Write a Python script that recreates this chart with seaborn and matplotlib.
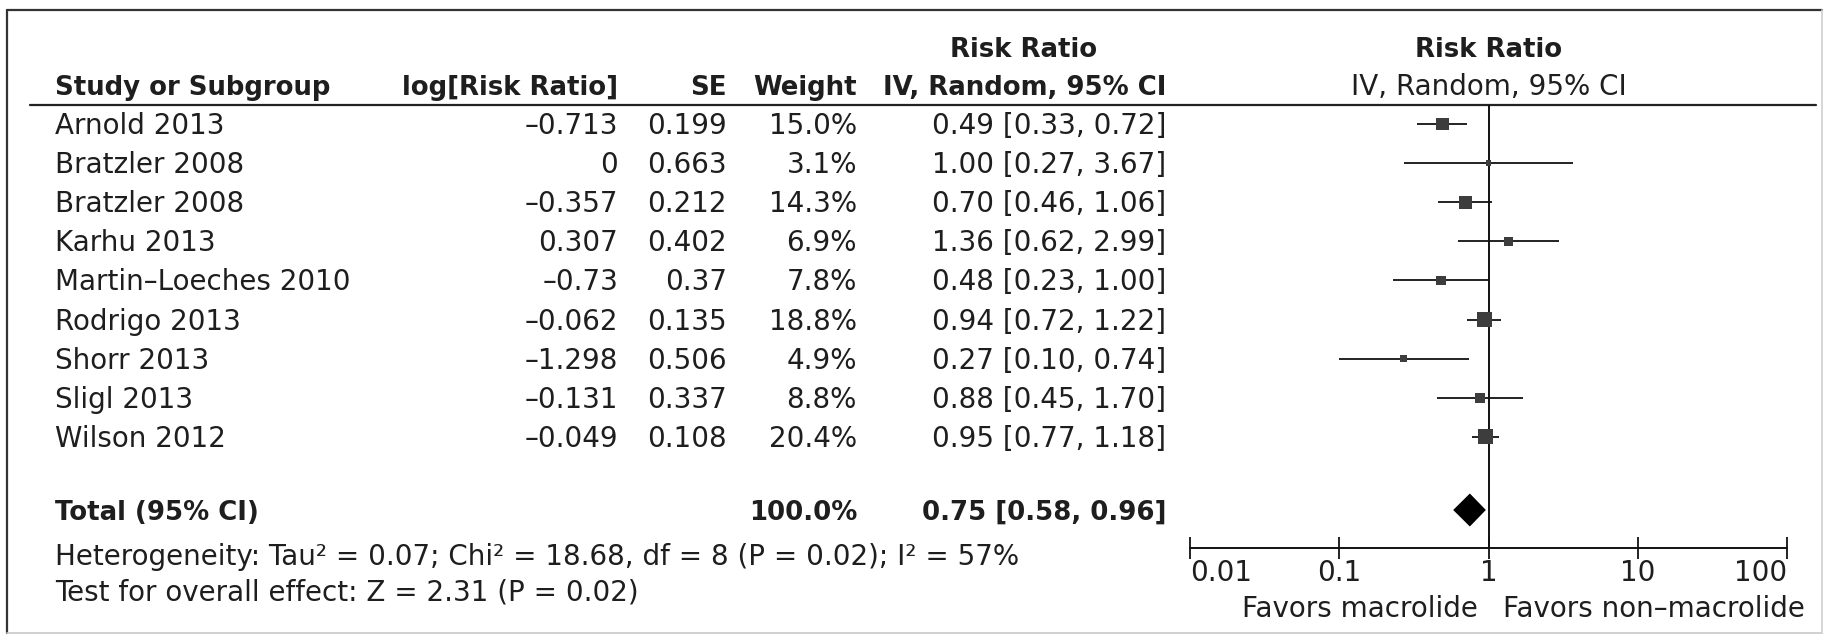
import numpy as np
import pandas as pd
import seaborn as sns
import matplotlib
matplotlib.use("Agg")
import matplotlib.pyplot as plt

# ---- study data -------------------------------------------------------------
studies = ["Arnold 2013", "Bratzler 2008", "Bratzler 2008", "Karhu 2013",
           "Martin\u2013Loeches 2010", "Rodrigo 2013", "Shorr 2013",
           "Sligl 2013", "Wilson 2012"]
log_rr = ["\u20130.713", "0", "\u20130.357", "0.307", "\u20130.73",
          "\u20130.062", "\u20131.298", "\u20130.131", "\u20130.049"]
se = ["0.199", "0.663", "0.212", "0.402", "0.37", "0.135", "0.506",
      "0.337", "0.108"]
weight = [15.0, 3.1, 14.3, 6.9, 7.8, 18.8, 4.9, 8.8, 20.4]
rr = [0.49, 1.00, 0.70, 1.36, 0.48, 0.94, 0.27, 0.88, 0.95]
ci_low = [0.33, 0.27, 0.46, 0.62, 0.23, 0.72, 0.10, 0.45, 0.77]
ci_high = [0.72, 3.67, 1.06, 2.99, 1.00, 1.22, 0.74, 1.70, 1.18]

total_weight = 100.0
total_rr = 0.75
total_low = 0.58
total_high = 0.96

heterogeneity = ("Heterogeneity: Tau\u00b2 = 0.07; Chi\u00b2 = 18.68, df = 8 "
                 "(P = 0.02); I\u00b2 = 57%")
overall_test = "Test for overall effect: Z = 2.31 (P = 0.02)"

axis_ticks = [0.01, 0.1, 1, 10, 100]
axis_ticklabels = ["0.01", "0.1", "1", "10", "100"]
favors_left = "Favors macrolide"
favors_right = "Favors non\u2013macrolide"

df = pd.DataFrame({"study": studies, "rr": rr, "low": ci_low,
                   "high": ci_high, "weight": weight})
df["row"] = np.arange(len(df))

# ---- layout (pixels) --------------------------------------------------------
W, H = 1830, 635
ROW0, ROWH = 124.0, 39.1          # first study row centre and row pitch
TOTAL_Y = 510.0
HEADER_LINE_Y = 105.0
AXIS_Y = 548.0
PLOT_X0, PLOT_X1 = 1190.0, 1787.0  # 0.01 .. 100 on the log axis
FS = 20
FS_BOLD = 18.7
CAP = 10                           # half cap height in px, for baselines
INK = "#1e1e1e"

sns.set_theme(style="white")
plt.rcParams["font.family"] = ["DejaVu Sans"]
plt.rcParams["text.color"] = INK

fig = plt.figure(figsize=(W / 100, H / 100), dpi=100)
fig.patch.set_facecolor("white")

# full-figure layer for the table text and frame
tab = fig.add_axes([0, 0, 1, 1])
tab.set_xlim(0, W)
tab.set_ylim(H, 0)
tab.axis("off")
tab.patch.set_alpha(0)

# frame
tab.plot([7, 1822], [10, 10], color="#333333", lw=1.6)
tab.plot([7, 7], [10, 633], color="#333333", lw=1.6)
tab.plot([7, 1822], [633, 633], color="#c8c8c8", lw=1.2)
tab.plot([1822, 1822], [10, 633], color="#d0d0d0", lw=1.2)
# rule under the column headers
tab.plot([30, 1816], [HEADER_LINE_Y, HEADER_LINE_Y], color="#222222", lw=1.6)


def put(x, y, s, ha="left", bold=False):
    tab.text(x, y + CAP, s, ha=ha, va="baseline",
             fontsize=FS_BOLD if bold else FS,
             fontweight="bold" if bold else "normal")


# column headers
X_STUDY, X_LOG, X_SE, X_W, X_CI = 55, 618, 727, 857, 1166
X_CI_MID = 1024
X_PLOT_MID = (PLOT_X0 + PLOT_X1) / 2
put(X_CI_MID, 47, "Risk Ratio", ha="center", bold=True)
put(X_PLOT_MID, 47, "Risk Ratio", ha="center", bold=True)
put(X_STUDY, 85, "Study or Subgroup", bold=True)
put(X_LOG, 85, "log[Risk Ratio]", ha="right", bold=True)
put(X_SE, 85, "SE", ha="right", bold=True)
put(X_W, 85, "Weight", ha="right", bold=True)
put(X_CI, 85, "IV, Random, 95% CI", ha="right", bold=True)
put(X_PLOT_MID, 85, "IV, Random, 95% CI", ha="center", bold=False)

# study rows
for i, row in df.iterrows():
    y = ROW0 + ROWH * row["row"]
    put(X_STUDY, y, row["study"])
    put(X_LOG, y, log_rr[i], ha="right")
    put(X_SE, y, se[i], ha="right")
    put(X_W, y, f"{row['weight']:.1f}%", ha="right")
    put(X_CI, y, f"{row['rr']:.2f} [{row['low']:.2f}, {row['high']:.2f}]",
        ha="right")

# pooled row and footnotes
put(X_STUDY, TOTAL_Y, "Total (95% CI)", bold=True)
put(X_W, TOTAL_Y, f"{total_weight:.1f}%", ha="right", bold=True)
put(X_CI, TOTAL_Y, f"{total_rr:.2f} [{total_low:.2f}, {total_high:.2f}]",
    ha="right", bold=True)
put(X_STUDY, 555, heterogeneity)
put(X_STUDY, 591, overall_test)

# ---- forest panel -----------------------------------------------------------
y_top = (HEADER_LINE_Y - ROW0) / ROWH
y_bot = (AXIS_Y - ROW0) / ROWH
fa = fig.add_axes([PLOT_X0 / W, (H - AXIS_Y) / H,
                   (PLOT_X1 - PLOT_X0) / W, (AXIS_Y - HEADER_LINE_Y) / H])
fa.patch.set_alpha(0)
fa.set_xscale("log")
fa.set_xlim(axis_ticks[0], axis_ticks[-1])
fa.set_ylim(y_bot, y_top)

# line of no effect
fa.axvline(1, color="#111111", lw=1.4, zorder=1)

# confidence intervals
fa.hlines(df["row"], df["low"], df["high"], color="#111111", lw=1.3, zorder=2)

# point estimates, square area proportional to weight
k = 5.8
sns.scatterplot(data=df, x="rr", y="row", size="weight",
                sizes=(k * min(weight), k * max(weight)),
                marker="s", color="#3d3d3d", linewidth=0, legend=False,
                ax=fa, zorder=3)

# pooled estimate diamond
total_row = (TOTAL_Y - ROW0) / ROWH
half_h = 16.5 / ROWH
fa.fill([total_low, total_rr, total_high, total_rr],
        [total_row, total_row - half_h, total_row, total_row + half_h],
        color="black", lw=0, zorder=3)

for side in ["top", "left", "right"]:
    fa.spines[side].set_visible(False)
fa.spines["bottom"].set_color("#111111")
fa.spines["bottom"].set_linewidth(1.4)
fa.set_yticks([])
fa.set_xlabel("")
fa.set_ylabel("")
fa.set_xticks(axis_ticks)
fa.set_xticklabels(axis_ticklabels)
fa.minorticks_off()
fa.tick_params(axis="x", which="major", bottom=True, direction="inout",
               length=16, width=1.3, color="#111111", labelsize=FS, pad=0,
               labelcolor=INK)
labels = fa.get_xticklabels()
labels[0].set_horizontalalignment("left")
labels[-1].set_horizontalalignment("right")

put(1478, 607, favors_left, ha="right")
put(1503, 607, favors_right, ha="left")

fig.savefig("out.png", dpi=100, facecolor="white")
